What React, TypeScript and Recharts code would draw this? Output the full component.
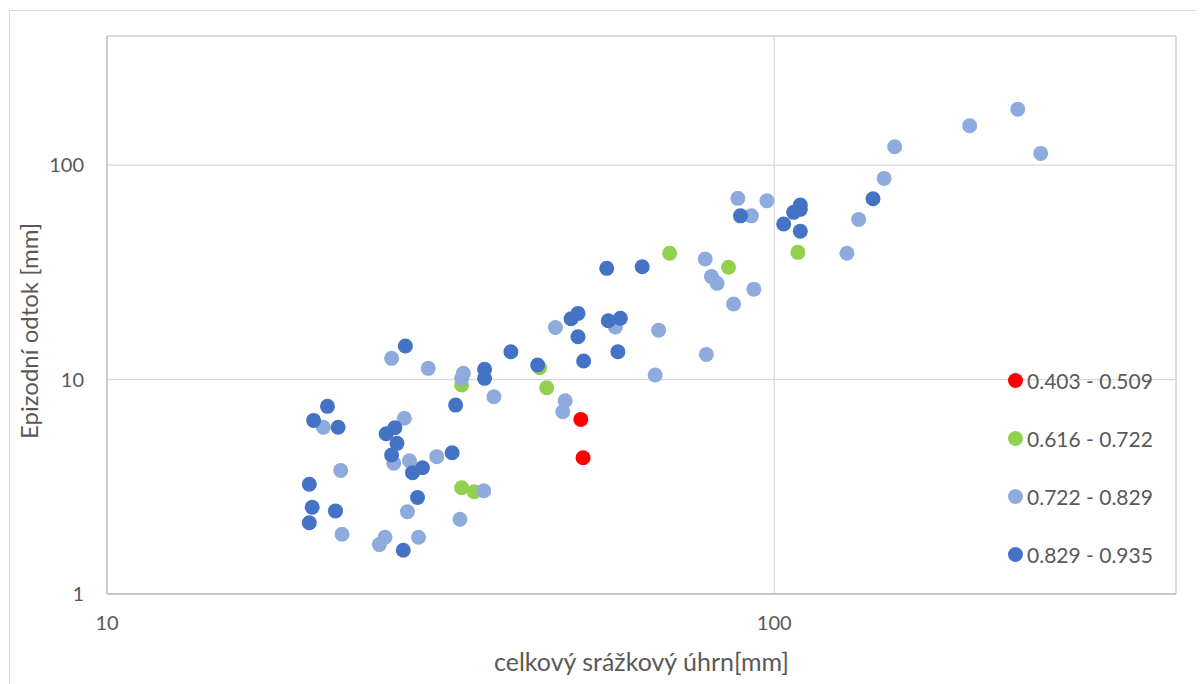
import React from 'react';
import { ScatterChart, Scatter, XAxis, YAxis, CartesianGrid, ReferenceLine, Legend } from 'recharts';

// Series: 0.403 - 0.509 (red)
const redX = [51.3, 51.7];
const redY = [6.52, 4.32];

// Series: 0.616 - 0.722 (green)
const greenX = [34.0, 44.5, 45.6, 34.0, 35.5, 69.7, 85.4, 108.5];
const greenY = [9.43, 11.35, 9.16, 3.13, 3.0, 38.8, 33.4, 39.2];

// Series: 0.722 - 0.829 (light blue)
const lightX = [26.7, 30.3, 34.2, 34.0, 38.0, 21.1, 27.9, 26.9, 28.4, 31.2, 22.4, 22.5, 26.1, 25.6, 29.3, 28.2, 36.7, 33.8, 47.0, 57.8, 67.1, 48.6, 48.2, 66.3, 78.8, 80.5, 82.1, 86.9, 93.2, 79.1, 88.2, 97.5, 92.4, 128.5, 133.8, 146.1, 151.5, 196.3, 231.7, 250.8];
const lightY = [12.56, 11.28, 10.69, 10.13, 8.32, 5.99, 6.6, 4.07, 4.18, 4.37, 3.77, 1.9, 1.84, 1.7, 1.84, 2.42, 3.03, 2.23, 17.5, 17.6, 17.0, 7.96, 7.08, 10.5, 36.5, 30.2, 28.1, 22.5, 26.4, 13.1, 70.0, 68.2, 58.0, 38.8, 55.8, 86.7, 121.7, 152.5, 182.4, 113.4];

// Series: 0.829 - 0.935 (dark blue)
const darkX = [28.0, 36.8, 36.8, 40.3, 33.3, 21.4, 20.4, 22.2, 27.0, 26.2, 27.2, 26.7, 28.7, 29.7, 32.9, 20.1, 20.3, 22.0, 20.1, 27.8, 29.2, 44.2, 49.6, 50.8, 50.8, 51.8, 56.1, 63.4, 56.4, 58.8, 58.3, 89.0, 109.4, 109.4, 106.9, 103.3, 109.4, 140.6];
const darkY = [14.33, 11.16, 10.13, 13.48, 7.6, 7.5, 6.45, 5.99, 5.96, 5.59, 5.04, 4.45, 3.68, 3.88, 4.56, 3.25, 2.54, 2.44, 2.15, 1.6, 2.82, 11.69, 19.2, 20.35, 15.83, 12.2, 33.0, 33.6, 18.8, 19.3, 13.48, 58.0, 65.1, 62.2, 60.2, 53.1, 49.2, 69.7];

const seriesNames = ['0.403 - 0.509', '0.616 - 0.722', '0.722 - 0.829', '0.829 - 0.935'];
const seriesColors = ['#FF0000', '#92D050', '#8FAADC', '#4472C4'];

const xTicks = [10, 100];
const yTicks = [1, 10, 100];
const xDomain = [10, 400];
const yDomain = [1, 400];

const xTitle = 'celkový srážkový úhrn[mm]';
const yTitle = 'Epizodní odtok [mm]';

const toPoints = (xs: number[], ys: number[]) => xs.map((x, i) => ({ x, y: ys[i] }));
const allSeries = [
  toPoints(redX, redY),
  toPoints(greenX, greenY),
  toPoints(lightX, lightY),
  toPoints(darkX, darkY),
];

const FONT = 'Lato, "Open Sans", sans-serif';
const TEXT = '#595959';

const makeShape = (color: string) => (props: any) => (
  <circle cx={props.cx} cy={props.cy} r={7.5} fill={color} />
);

const XTitle = () => (
  <text x={633.5} y={663} textAnchor="middle" fill={TEXT} fontSize={25} fontFamily={FONT}>
    {xTitle}
  </text>
);

const YTitle = () => (
  <text
    x={20}
    y={323}
    transform="rotate(-90, 20, 323)"
    textAnchor="middle"
    dominantBaseline="central"
    fill={TEXT}
    fontSize={24}
    fontFamily={FONT}
  >
    {yTitle}
  </text>
);

const LegendContent = () => (
  <div style={{ fontFamily: FONT, fontSize: 21, color: TEXT }}>
    {seriesNames.map((name, i) => (
      <div key={name} style={{ display: 'flex', alignItems: 'center', height: 58 }}>
        <span
          style={{
            display: 'inline-block',
            width: 15,
            height: 15,
            borderRadius: '50%',
            background: seriesColors[i],
            marginRight: 4,
          }}
        />
        <span>{name}</span>
      </div>
    ))}
  </div>
);

export default function App() {
  return (
    <div style={{ position: 'relative', width: 1196, height: 676, overflow: 'hidden', background: '#fff' }}>
      <div
        style={{
          position: 'absolute',
          left: 1,
          top: 2,
          width: 1400,
          height: 900,
          border: '1px solid #d9d9d9',
          boxSizing: 'border-box',
        }}
      />
      <div style={{ position: 'absolute', left: 0, top: 0 }}>
        <ScatterChart width={1196} height={676} margin={{ top: 28, right: 28, left: 0, bottom: 0 }}>
          <CartesianGrid stroke="#d9d9d9" strokeWidth={1.3} />
          <XAxis
            type="number"
            dataKey="x"
            scale="log"
            domain={xDomain}
            ticks={xTicks}
            allowDataOverflow
            height={90}
            tickLine={false}
            tickSize={0}
            tickMargin={22}
            axisLine={{ stroke: '#bfbfbf', strokeWidth: 1.3 }}
            tick={{ fill: TEXT, fontSize: 20, fontFamily: FONT }}
            label={XTitle}
          />
          <YAxis
            type="number"
            dataKey="y"
            scale="log"
            domain={yDomain}
            ticks={yTicks}
            allowDataOverflow
            width={99}
            tickLine={false}
            tickSize={0}
            tickMargin={23}
            axisLine={{ stroke: '#bfbfbf', strokeWidth: 1.3 }}
            tick={{ fill: TEXT, fontSize: 20, fontFamily: FONT }}
            label={YTitle}
          />
          <ReferenceLine y={400} stroke="#d9d9d9" strokeWidth={1.3} />
          <ReferenceLine x={400} stroke="#d9d9d9" strokeWidth={1.3} />
          {allSeries.map((pts, i) => (
            <Scatter
              key={seriesNames[i]}
              name={seriesNames[i]}
              data={pts}
              fill={seriesColors[i]}
              shape={makeShape(seriesColors[i])}
              isAnimationActive={false}
            />
          ))}
          <Legend
            layout="vertical"
            align="center"
            verticalAlign="middle"
            content={LegendContent}
            wrapperStyle={{ position: 'absolute', left: 1000, top: 343, width: 190, height: 232 }}
          />
        </ScatterChart>
      </div>
    </div>
  );
}
